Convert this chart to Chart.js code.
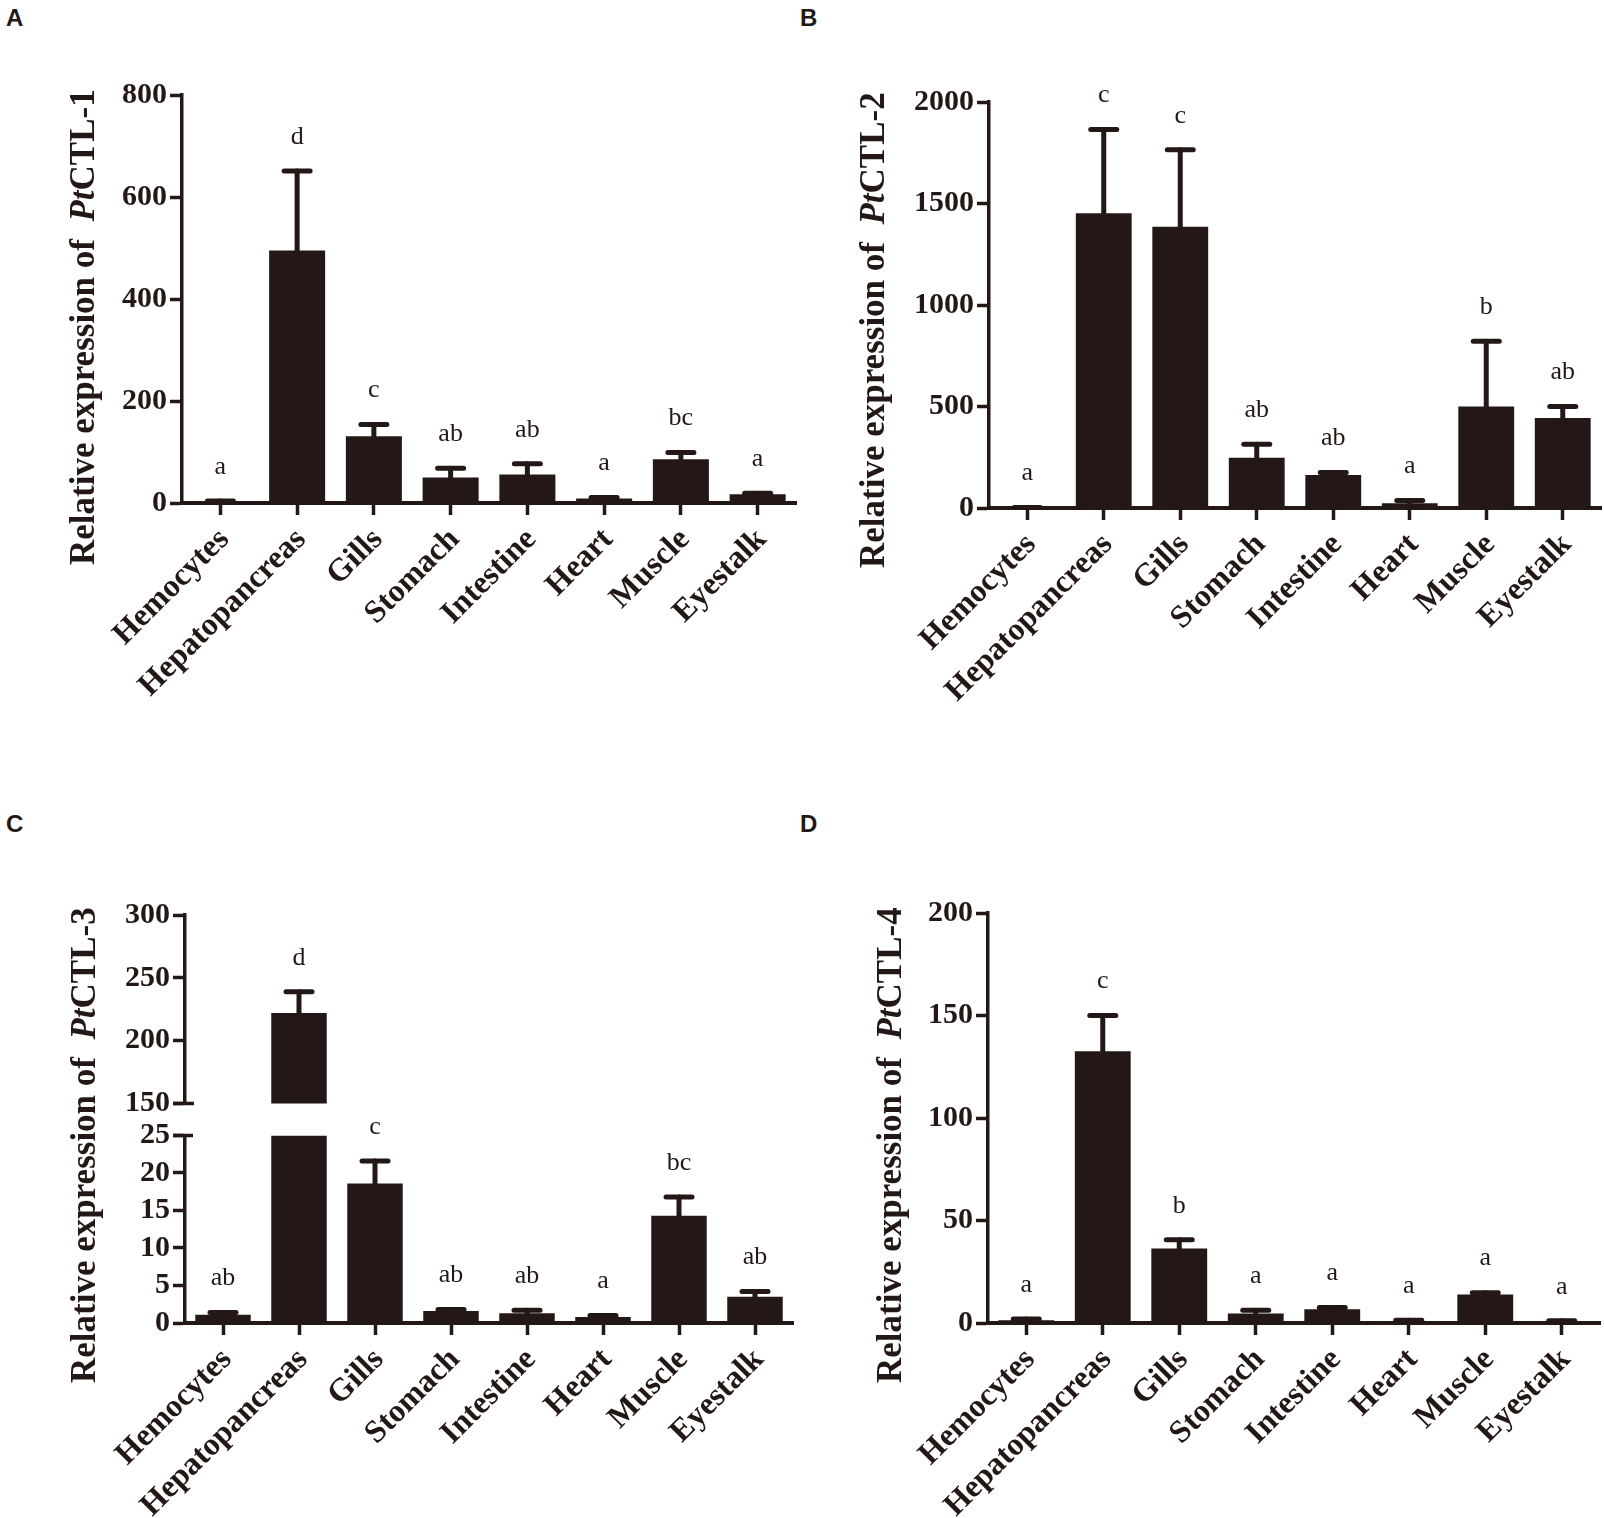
<!DOCTYPE html>
<html>
<head>
<meta charset="utf-8">
<title>Tissue distribution of PtCTL-1 to PtCTL-4</title>
<script src="https://cdn.jsdelivr.net/npm/chart.js@4.4.1/dist/chart.umd.min.js"></script>
<style>
  body { margin: 0; background: #fff; width: 1604px; height: 1518px; position: relative; overflow: hidden; }
  canvas { position: absolute; }
  .tag { position: absolute; font: bold 24px 'Liberation Sans', Arial, sans-serif; line-height: 24px; color: #231815; }
</style>
</head>
<body>
<div class="tag" style="left:6px;top:6px">A</div>
<div class="tag" style="left:800px;top:6px">B</div>
<div class="tag" style="left:6px;top:812px">C</div>
<div class="tag" style="left:800px;top:812px">D</div>

<canvas id="chartA" width="802" height="760" style="left:0;top:0"></canvas>
<canvas id="chartB" width="802" height="760" style="left:802px;top:0"></canvas>
<canvas id="chartC" width="802" height="758" style="left:0;top:760px"></canvas>
<canvas id="chartD" width="802" height="758" style="left:802px;top:760px"></canvas>

<script>
// tissues on the x axis (same for all four panels)
const tissues = ['Hemocytes', 'Hepatopancreas', 'Gills', 'Stomach', 'Intestine', 'Heart', 'Muscle', 'Eyestalk'];

// A - PtCTL-1 (mean and mean + SD)
const ctl1Mean = [3, 495, 131, 50, 56, 9, 86, 17];
const ctl1Err = [4, 651, 154, 68, 77, 11, 99, 19];
const ctl1Letters = ['a', 'd', 'c', 'ab', 'ab', 'a', 'bc', 'a'];
const ctl1Ticks = [0, 800, 200];

// B - PtCTL-2
const ctl2Mean = [2, 1452, 1386, 248, 162, 24, 500, 443];
const ctl2Err = [3, 1864, 1765, 314, 175, 37, 822, 500];
const ctl2Letters = ['a', 'c', 'c', 'ab', 'ab', 'a', 'b', 'ab'];
const ctl2Ticks = [0, 2000, 500];

// C - PtCTL-3 (broken y axis: 0-25 and 150-300)
const ctl3Mean = [1.1, 222, 18.6, 1.6, 1.3, 0.8, 14.3, 3.5];
const ctl3Err = [1.4, 239, 21.6, 1.8, 1.7, 1.0, 16.8, 4.2];
const ctl3Letters = ['ab', 'd', 'c', 'ab', 'ab', 'a', 'bc', 'ab'];
const ctl3LowTicks = [0, 25, 5];
const ctl3HighTicks = [150, 300, 50];

// D - PtCTL-4
const ctl4Mean = [1.4, 132.6, 36.3, 4.6, 6.7, 1.0, 13.9, 0.9];
const ctl4Err = [2, 150, 40.6, 6.2, 7.6, 1.4, 14.8, 1.1];
const ctl4Letters = ['a', 'c', 'b', 'a', 'a', 'a', 'a', 'a'];
const ctl4Ticks = [0, 200, 50];

const ink = '#231815';
const serif = "'Liberation Serif', 'Times New Roman', serif";

// draws the one-sided error bars, the letters over them, the y title (with italic Pt) and axis break marks
const extras = {
    id: 'extras',
    afterDatasetsDraw(chart) {
        const ctx = chart.ctx;
        chart.data.datasets.forEach((ds, i) => {
            if (!ds.errors) return;
            const meta = chart.getDatasetMeta(i);
            const yScale = chart.scales[meta.yAxisID];
            meta.data.forEach((bar, j) => {
                const err = ds.errors[j];
                if (err == null) return;
                const top = yScale.getPixelForValue(err);
                ctx.save();
                ctx.strokeStyle = ink;
                ctx.lineCap = 'round';
                ctx.lineWidth = 5;
                ctx.beginPath();
                ctx.moveTo(bar.x, bar.y);
                ctx.lineTo(bar.x, top);
                ctx.stroke();
                ctx.beginPath();
                ctx.moveTo(bar.x - 13, top);
                ctx.lineTo(bar.x + 13, top);
                ctx.stroke();
                ctx.fillStyle = ink;
                ctx.font = '26px ' + serif;
                ctx.textAlign = 'center';
                ctx.textBaseline = 'middle';
                ctx.fillText(ds.letters[j], bar.x, top - 34);
                ctx.restore();
            });
        });
    },
    afterDraw(chart, args, opts) {
        const ctx = chart.ctx;
        ctx.save();
        ctx.fillStyle = ink;
        ctx.translate(opts.titleX, opts.titleY);
        ctx.rotate(-Math.PI / 2);
        ctx.textAlign = 'left';
        ctx.textBaseline = 'middle';
        let x = 0;
        const parts = [['Relative expression of  ', 'bold'], ['Pt', 'italic bold'], [opts.gene, 'bold']];
        for (const [txt, style] of parts) {
            ctx.font = style + ' 35px ' + serif;
            ctx.fillText(txt, x, 0);
            x += ctx.measureText(txt).width;
        }
        ctx.restore();

        if (opts.broken) {
            // little cross marks where the y axis is cut
            const lo = chart.scales.yLow, hi = chart.scales.yHigh;
            const ax = lo.right;
            ctx.save();
            ctx.strokeStyle = ink;
            ctx.lineWidth = 3.5;
            ctx.beginPath();
            ctx.moveTo(ax - 12, hi.bottom);
            ctx.lineTo(ax + 9, hi.bottom);
            ctx.moveTo(ax - 12, lo.top);
            ctx.lineTo(ax + 8, lo.top);
            ctx.stroke();
            ctx.restore();
        }
    }
};
Chart.register(extras);

function xAxis(height) {
    return {
        type: 'category',
        offset: true,
        grid: { offset: false, drawOnChartArea: false, drawTicks: true, tickLength: 12, tickWidth: 3.5, color: ink },
        border: { display: true, width: 4, color: ink },
        ticks: {
            color: ink, autoSkip: false, minRotation: 45, maxRotation: 45, padding: 6, labelOffset: 4,
            font: { family: serif, size: 32, weight: 'bold' }
        },
        afterFit(scale) { scale.height = height; scale.paddingLeft = 0; scale.paddingRight = 0; }
    };
}

function yAxis(width, t, extra) {
    return Object.assign({
        type: 'linear',
        position: 'left',
        min: t[0],
        max: t[1],
        grid: { drawOnChartArea: false, drawTicks: true, tickLength: 12, tickWidth: 3.5, color: ink },
        border: { display: true, width: 3.5, color: ink },
        ticks: {
            stepSize: t[2], autoSkip: false, color: ink, padding: 3,
            font: { family: serif, size: 30, weight: 'bold' },
            callback: v => String(v)
        },
        afterFit(scale) { scale.width = width; }
    }, extra || {});
}

function barSet(values, errors, letters, extra) {
    return Object.assign({
        data: values,
        errors: errors,
        letters: letters,
        backgroundColor: ink,
        borderWidth: 0,
        barPercentage: 0.73,
        categoryPercentage: 1
    }, extra || {});
}

function baseOptions(pad, title) {
    return {
        responsive: false,
        animation: false,
        layout: { padding: pad },
        plugins: { legend: { display: false }, tooltip: { enabled: false }, extras: title }
    };
}

// A
let optsA = baseOptions({ top: 95, right: 6, left: 0, bottom: 0 }, { gene: 'CTL-1', titleX: 85, titleY: 565 });
optsA.scales = { x: xAxis(257), y: yAxis(182, ctl1Ticks) };
new Chart(document.getElementById('chartA'), {
    type: 'bar',
    data: { labels: tissues, datasets: [barSet(ctl1Mean, ctl1Err, ctl1Letters)] },
    options: optsA
});

// B
let optsB = baseOptions({ top: 102, right: 3, left: 0, bottom: 0 }, { gene: 'CTL-2', titleX: 73, titleY: 568 });
optsB.scales = { x: xAxis(252), y: yAxis(187, ctl2Ticks) };
new Chart(document.getElementById('chartB'), {
    type: 'bar',
    data: { labels: tissues, datasets: [barSet(ctl2Mean, ctl2Err, ctl2Letters)] },
    options: optsB
});

// C - two stacked y scales with an empty one between them for the break
const lowTop = ctl3LowTicks[1], highBottom = ctl3HighTicks[0];
const ctl3Low = ctl3Mean.map(v => Math.min(v, lowTop));
const ctl3High = ctl3Mean.map(v => v > highBottom ? v : null);
const ctl3ErrLow = ctl3Err.map((e, i) => ctl3Mean[i] > lowTop ? null : e);
const ctl3ErrHigh = ctl3Err.map((e, i) => ctl3Mean[i] > highBottom ? e : null);
let optsC = baseOptions({ top: 155, right: 9, left: 0, bottom: 0 }, { gene: 'CTL-3', titleX: 86, titleY: 623, broken: true });
optsC.scales = {
    x: xAxis(195),
    yLow: yAxis(185, ctl3LowTicks, { stack: 'cut', stackWeight: 188 }),
    yGap: { type: 'linear', position: 'left', stack: 'cut', stackWeight: 32, display: false },
    yHigh: yAxis(185, ctl3HighTicks, { stack: 'cut', stackWeight: 189 })
};
new Chart(document.getElementById('chartC'), {
    type: 'bar',
    data: {
        labels: tissues,
        datasets: [
            barSet(ctl3Low, ctl3ErrLow, ctl3Letters, { yAxisID: 'yLow', grouped: false }),
            barSet(ctl3High, ctl3ErrHigh, ctl3Letters, { yAxisID: 'yHigh', grouped: false })
        ]
    },
    options: optsC
});

// D
let optsD = baseOptions({ top: 153, right: 4, left: 0, bottom: 0 }, { gene: 'CTL-4', titleX: 90, titleY: 623 });
optsD.scales = { x: xAxis(195), y: yAxis(186, ctl4Ticks) };
new Chart(document.getElementById('chartD'), {
    type: 'bar',
    data: { labels: tissues, datasets: [barSet(ctl4Mean, ctl4Err, ctl4Letters)] },
    options: optsD
});
</script>
</body>
</html>
